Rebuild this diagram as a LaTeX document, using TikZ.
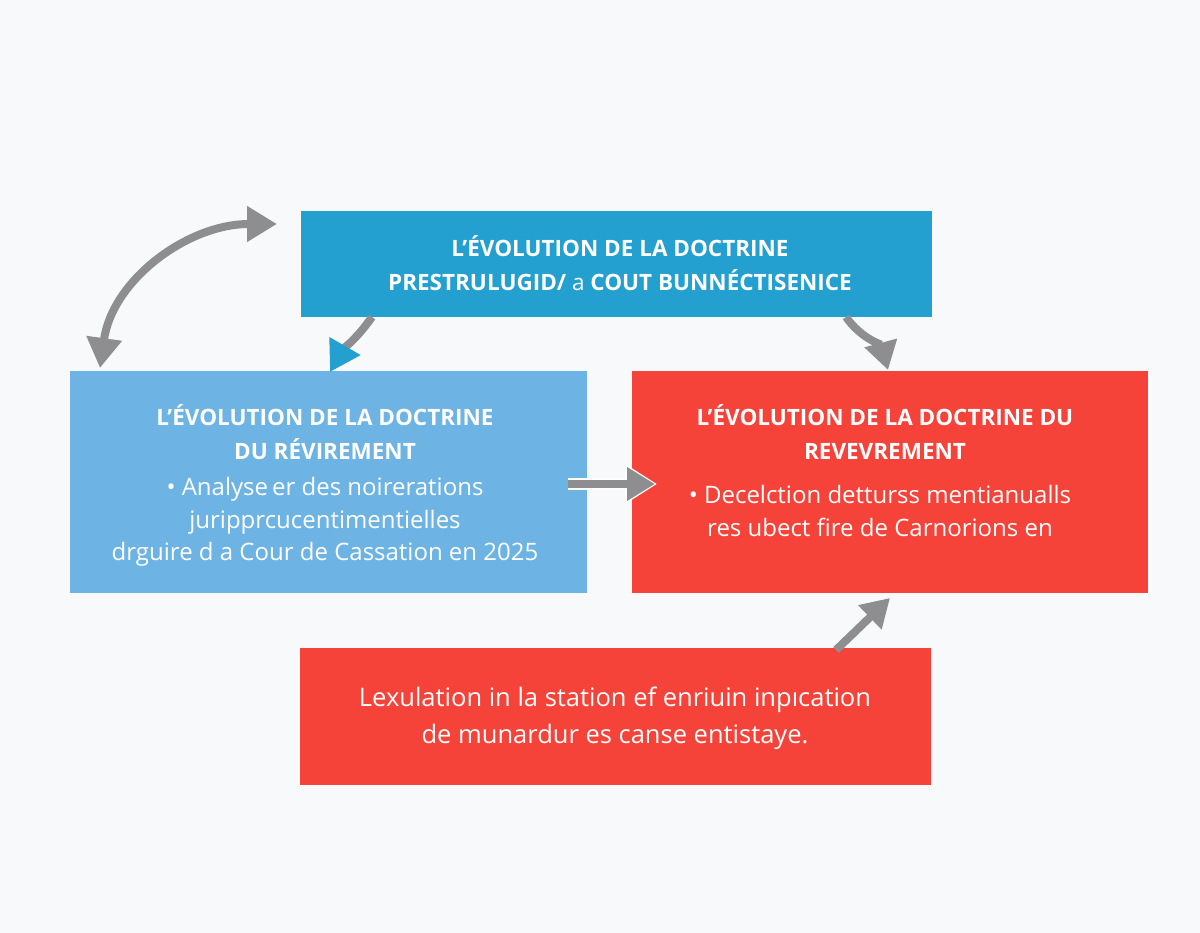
\documentclass[tikz,border=0pt]{standalone}
\usepackage{fontspec}
\setmainfont{Open Sans}
\usetikzlibrary{arrows.meta}
\definecolor{topblue}{HTML}{239FD0}
\definecolor{lightblue}{HTML}{6DB3E3}
\definecolor{boxred}{HTML}{F5433A}
\definecolor{arrowgray}{HTML}{8E8E90}
\definecolor{bg}{HTML}{F8F9FB}
\tikzset{
  box/.style={rectangle, inner sep=0pt, draw=none},
  ttl/.style={text=white, font=\bfseries\fontsize{22.5}{34.5}\selectfont, align=center, inner sep=0pt},
  bdy/.style={text=white, font=\fontsize{24}{32.5}\selectfont, align=center, inner sep=0pt},
  conn/.style={draw=arrowgray, line width=8pt, -{Triangle[length=30pt,width=34pt]}},
}
\begin{document}
\begin{tikzpicture}[x=1pt,y=-1pt]
\fill[bg] (0,0) rectangle (1200,933);
\useasboundingbox (0,0) rectangle (1200,933);
% boxes
\node[box, fill=topblue, minimum width=631pt, minimum height=106pt] (top) at (616.5,264) {};
\node[box, fill=lightblue, minimum width=517pt, minimum height=222pt] (left) at (328.5,482) {};
\node[box, fill=boxred, minimum width=516pt, minimum height=222pt] (right) at (890,482) {};
\node[box, fill=boxred, minimum width=631pt, minimum height=137pt] (bottom) at (615.5,716.5) {};
% texts
\node[ttl] (toptxt) at (620,263) {L’ÉVOLUTION DE LA DOCTRINE\\PRESTRULUGID/ {\mdseries a} COUT BUNNÉCTISENICE};
\node[ttl] (lefttxt) at (325,432) {L’ÉVOLUTION DE LA DOCTRINE\\DU RÉVIREMENT};
\node[bdy] (leftbody) at (325,522) {• Analyse\,er des noirerations\\juripprcucentimentielles\\drguire d a Cour de Cassation en 2025};
\node[ttl] (righttxt) at (885,432) {L’ÉVOLUTION DE LA DOCTRINE DU\\REVEVREMENT};
\node[bdy] (rightbody) at (880,511) {• Decelction detturss mentianualls\\res ubect fire de Carnorions en};
\node[bdy, font=\fontsize{25.5}{37}\selectfont] (bottxt) at (615,718) {Lexulation in la station ef enriuin inpıcation\\de munardur es canse entistaye.};
% connectors
\coordinate (dl) at (100,368);
\coordinate (dr) at (277,224);
\draw[draw=arrowgray, line width=8pt, {Triangle[length=30pt,width=34pt]}-{Triangle[length=30pt,width=34pt]}] (dl) to[out=82,in=180,looseness=1.0] (dr);
\coordinate (tl1) at (372,317);
\coordinate (tl2) at (330,372);
\draw[draw=arrowgray, line width=8pt, -{Triangle[length=30pt,width=34pt,color=topblue]}] (tl1) to[out=235,in=60] (tl2);
\coordinate (tr1) at (846,317);
\coordinate (tr2) at (888,370);
\draw[conn, -{Triangle[length=28pt,width=32pt]}] (tr1) to[out=-55,in=105] (tr2);
\coordinate (m1) at (568,484);
\coordinate (m2) at (657,484);
\draw[draw=white, line width=12pt, -{Triangle[length=32pt,width=38pt]}] (m1) -- (m2);
\draw[conn, line width=8pt, -{Triangle[length=28pt,width=32pt]}] (m1) -- ([xshift=-2pt]m2);
\coordinate (b1) at (836,650);
\coordinate (b2) at (890,598);
\draw[conn, -{Triangle[length=28pt,width=32pt]}] (b1) -- (b2);
\end{tikzpicture}
\end{document}
